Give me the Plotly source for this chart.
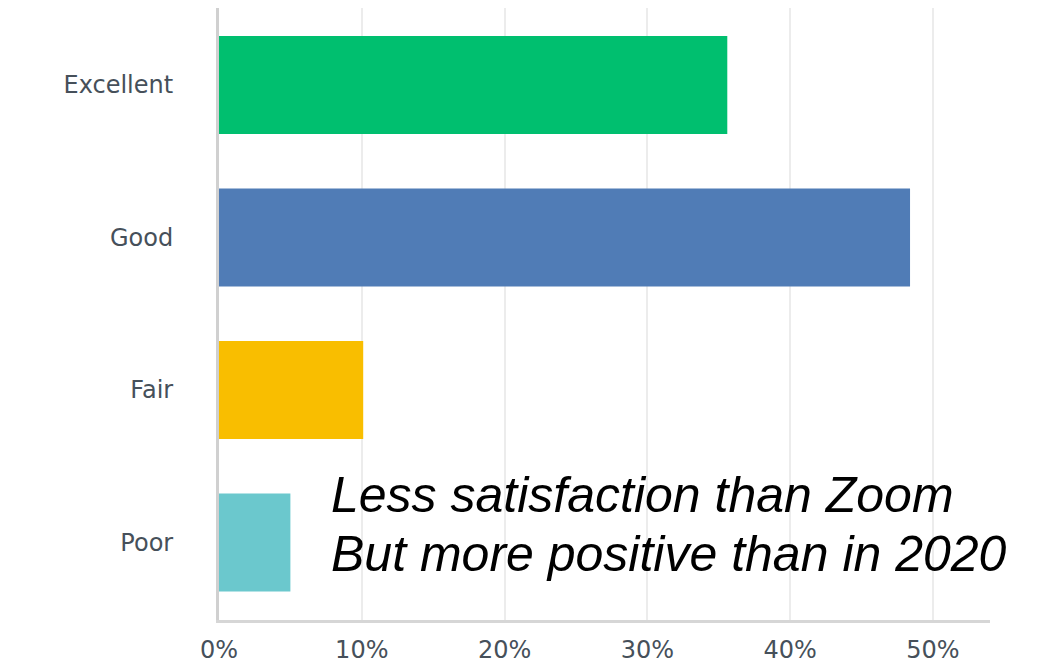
import plotly.graph_objects as go

categories = ["Excellent", "Good", "Fair", "Poor"]
values = [35.6, 48.4, 10.1, 5.0]
colors = ["#00BF6F", "#507CB6", "#F9BE00", "#6BC8CD"]
x_ticks = [0, 10, 20, 30, 40, 50]
x_tick_labels = ["0%", "10%", "20%", "30%", "40%", "50%"]
note_lines = ["Less satisfaction than Zoom", "But more positive than in 2020"]
note_y = [0.2045, 0.1085]

fig = go.Figure(
    go.Bar(
        x=values,
        y=categories,
        orientation="h",
        width=0.643,
        marker=dict(color=colors, line=dict(width=0)),
        hoverinfo="x+y",
    )
)

tick_font = dict(family="DejaVu Sans", size=24, color="#46505a")

fig.update_layout(
    width=1029,
    height=657,
    margin=dict(l=211, r=47, t=0, b=45),
    paper_bgcolor="white",
    plot_bgcolor="white",
    showlegend=False,
    xaxis=dict(
        range=[0, 54.0],
        tickvals=x_ticks,
        ticktext=x_tick_labels,
        showgrid=True,
        gridcolor="#ececec",
        gridwidth=2,
        zeroline=False,
        showline=True,
        linecolor="#d6d6d6",
        linewidth=3,
        ticks="",
        tickfont=tick_font,
        ticklabelstandoff=6,
        fixedrange=True,
    ),
    yaxis=dict(
        categoryorder="array",
        categoryarray=categories,
        range=[3.508, -0.505],
        showgrid=False,
        zeroline=False,
        showline=True,
        linecolor="#d0d0d0",
        linewidth=3,
        ticks="",
        tickfont=tick_font,
        ticklabelstandoff=38,
        fixedrange=True,
    ),
    annotations=[
        dict(
            text=line,
            xref="paper",
            yref="paper",
            x=0.1427,
            y=yy,
            xanchor="left",
            yanchor="middle",
            align="left",
            showarrow=False,
            font=dict(family="Liberation Sans", size=50, color="#000000", style="italic"),
        )
        for line, yy in zip(note_lines, note_y)
    ],
)

fig.write_html("out.html")
